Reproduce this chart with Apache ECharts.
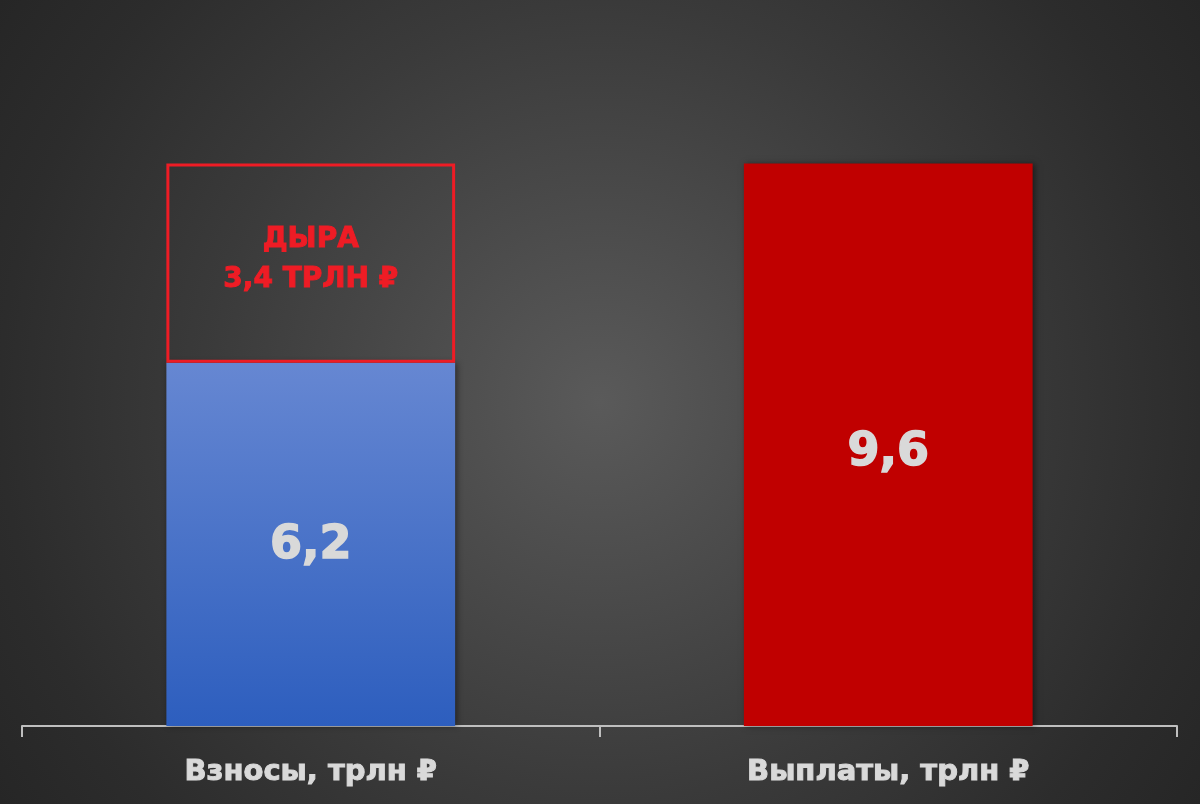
<!DOCTYPE html>
<html>
<head>
<meta charset="utf-8">
<script src="https://cdn.jsdelivr.net/npm/echarts@6/dist/echarts.min.js"></script>
<style>
  html, body { margin: 0; padding: 0; }
  #chart {
    width: 1200px;
    height: 804px;
    background: radial-gradient(circle at 50% 50%, #5a5a5a 0px, #3a3a3a 400px, #2c2c2c 600px, #262626 722px);
  }
</style>
</head>
<body>
<div id="chart"></div>
<script>
const categories = ["Взносы, трлн ₽", "Выплаты, трлн ₽"];
const contributions = [6.2];
const payouts = [9.6];
const gap = [3.4];
const gapLabel = ["ДЫРА", "3,4 ТРЛН ₽"];

const chart = echarts.init(document.getElementById("chart"));

const font = "DejaVu Sans";

const option = {
  backgroundColor: "transparent",
  grid: { left: 22, right: 23, top: 23, bottom: 78 },
  xAxis: {
    type: "category",
    data: categories,
    axisLine: { lineStyle: { color: "#bfbfbf", width: 2 } },
    axisTick: { show: true, length: 11, lineStyle: { color: "#bfbfbf", width: 2 } },
    axisLabel: {
      margin: 32,
      color: "#d9d9d9",
      fontFamily: font,
      fontWeight: "bold",
      fontSize: 29,
      textBorderColor: "#d9d9d9",
      textBorderWidth: 1,
    },
  },
  yAxis: { type: "value", min: 0, max: 12, show: false, splitLine: { show: false } },
  series: [
    {
      type: "bar",
      stack: "total",
      barWidth: "50%",
      data: [
        {
          value: contributions[0],
          itemStyle: {
            color: new echarts.graphic.LinearGradient(0, 0, 0, 1, [
              { offset: 0, color: "#6687d2" },
              { offset: 1, color: "#2d5ebe" },
            ]),
          },
          label: { offset: [0, 2] },
        },
        {
          value: payouts[0],
          itemStyle: { color: "#c00000" },
          label: { offset: [0, 8] },
        },
      ],
      itemStyle: { shadowBlur: 6, shadowColor: "rgba(0,0,0,0.45)", shadowOffsetX: 2, shadowOffsetY: 0 },
      label: {
        show: true,
        position: "inside",
        color: "#d9d9d9",
        fontFamily: font,
        fontWeight: "bold",
        fontSize: 46,
        textBorderColor: "#d9d9d9",
        textBorderWidth: 1.5,
        formatter: (p) => String(p.value).replace(".", ","),
      },
      z: 2,
    },
    {
      type: "bar",
      stack: "total",
      barWidth: "50%",
      data: [gap[0], "-"],
      itemStyle: { color: "rgba(0,0,0,0)", borderColor: "#ee1c25", borderWidth: 3 },
      label: {
        show: true,
        position: "inside",
        offset: [0, -3],
        color: "#ee1c25",
        fontFamily: font,
        fontWeight: "bold",
        fontSize: 28,
        lineHeight: 40,
        textBorderColor: "#ee1c25",
        textBorderWidth: 1,
        formatter: () => gapLabel.join("\n"),
      },
      z: 3,
    },
  ],
};

chart.setOption(option);
</script>
</body>
</html>
